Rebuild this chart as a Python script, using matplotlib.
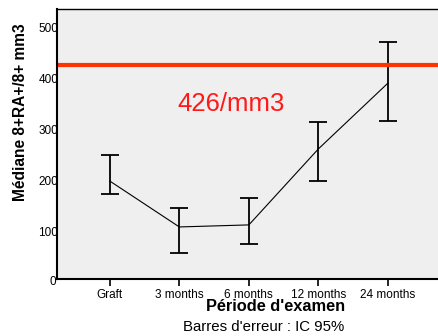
import matplotlib.pyplot as plt
import numpy as np

plt.rcParams["font.family"] = ["Liberation Sans", "DejaVu Sans"]

periods = ["Graft", "3 months", "6 months", "12 months", "24 months"]
median = [198, 108, 112, 261, 390]
ci_low = [172, 57, 75, 199, 315]
ci_high = [249, 146, 164, 314, 470]
reference_level = 426
y_ticks = [0, 100, 200, 300, 400, 500]

fig = plt.figure(figsize=(4.38, 3.36), dpi=100)
ax = fig.add_axes([0.130, 0.1696, 0.870, 0.8036])
ax.set_facecolor("#efefef")

x = np.arange(len(periods))
med = np.array(median)
yerr = [med - np.array(ci_low), np.array(ci_high) - med]
ax.plot(x, med, color="black", lw=0.8)
ax.errorbar(x, med, yerr=yerr, fmt="none", ecolor="black", elinewidth=1.3,
            capsize=6.5, capthick=1.3)

ax.axhline(reference_level, color="#ff3300", lw=3.0)
ax.text(1.74, 350, "426/mm3", color="#ff1a1a", fontsize=18.5, ha="center", va="center")

ax.set_xlim(-0.76, 4.72)
ax.set_ylim(5.9, 535.3)
ax.set_xticks(x)
ax.set_xticklabels(periods, fontsize=8.5)
ax.set_yticks(y_ticks[1:])
ax.set_yticklabels([str(v) for v in y_ticks[1:]], fontsize=8.5)
ax.tick_params(axis="y", length=0, pad=-1)
ax.tick_params(axis="x", length=5, width=1.2, pad=2)
# the zero label sits just under the axis floor
ax.text(-0.003, y_ticks[0], "0", transform=ax.get_yaxis_transform(),
        fontsize=8.5, ha="right", va="center", clip_on=False)

ax.spines["right"].set_visible(False)
ax.spines["left"].set_linewidth(1.5)
ax.spines["bottom"].set_linewidth(1.5)
ax.spines["top"].set_linewidth(1.0)

fig.text(0.046, 0.667, "Médiane 8+RA+/8+ mm3", rotation=90, fontsize=11.2,
         fontweight="bold", ha="center", va="center")
fig.text(0.629, 0.087, "Période d'examen", fontsize=11.8, fontweight="bold",
         ha="center", va="center")
fig.text(0.603, 0.027, "Barres d'erreur : IC 95%", fontsize=10.8,
         ha="center", va="center")

fig.savefig("out.png", dpi=100)
